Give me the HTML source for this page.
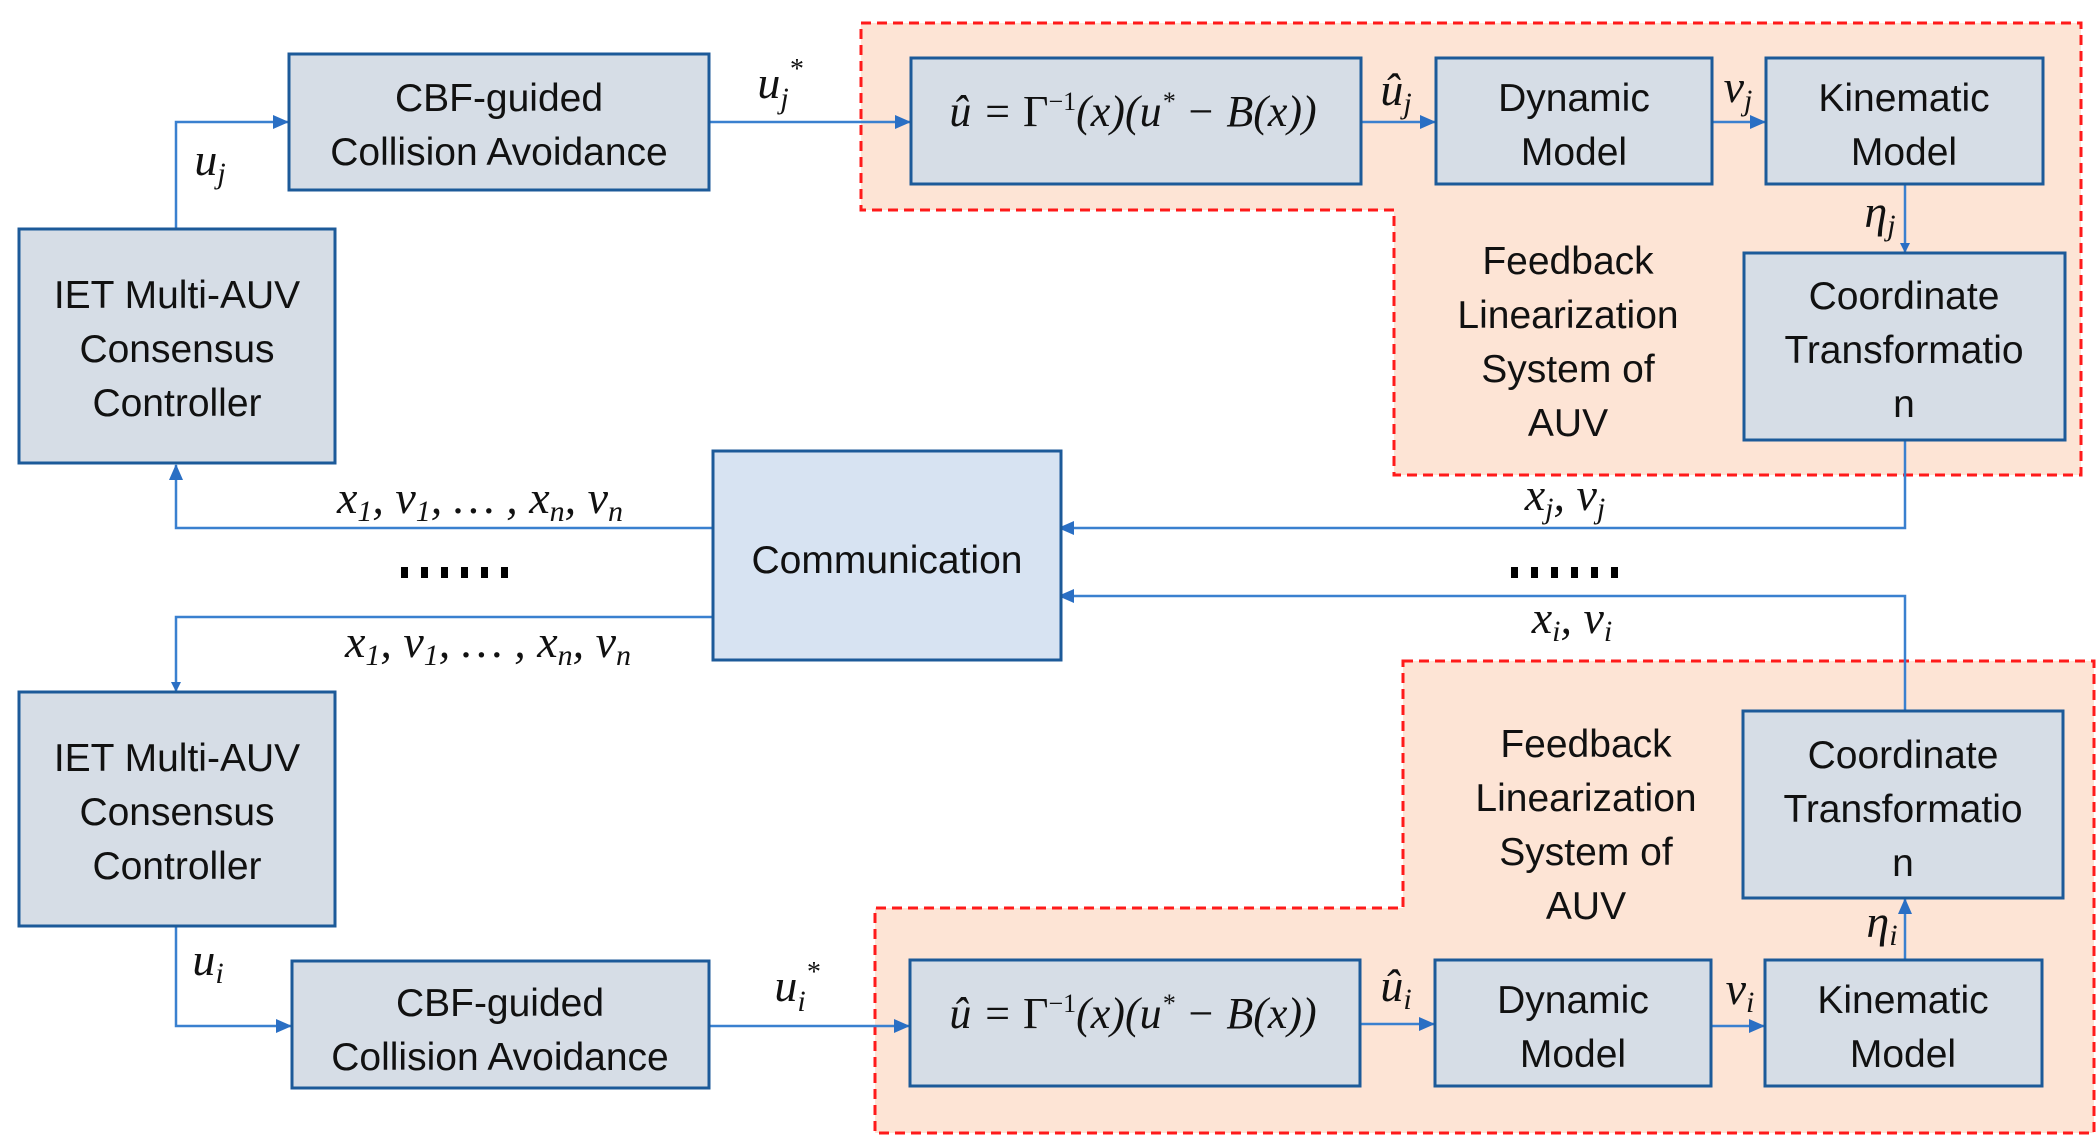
<!DOCTYPE html>
<html><head><meta charset="utf-8"><style>
html,body{margin:0;padding:0;background:#fff;}
svg{display:block;}
.t{font-family:"Liberation Sans",sans-serif;font-size:39px;fill:#111;text-anchor:middle;}
.m{font-family:"Liberation Serif",serif;font-style:italic;font-size:46px;fill:#111;text-anchor:middle;}
.b{fill:#d6dde6;stroke:#1c5a99;stroke-width:3;}
.l{fill:none;stroke:#3a80cf;stroke-width:2.5;}
.r{fill:#fde4d5;stroke:#ff1a1a;stroke-width:3;stroke-dasharray:10 6;}
</style></head><body>
<svg width="2100" height="1146" viewBox="0 0 2100 1146" xmlns="http://www.w3.org/2000/svg">
<defs><marker id="a" markerWidth="10" markerHeight="10" refX="9" refY="5" orient="auto" markerUnits="userSpaceOnUse"><path d="M0,0 L10,5 L0,10 z" fill="#2a6fc4"/></marker>
<marker id="a2" markerWidth="16" markerHeight="14" refX="15" refY="7" orient="auto" markerUnits="userSpaceOnUse"><path d="M0,0 L16,7 L0,14 z" fill="#2a6fc4"/></marker></defs>

<path class="r" d="M861,23 H2081 V475 H1394 V210 H861 Z"/>
<path class="r" d="M1403,661 H2094 V1133 H875 V908 H1403 Z"/>

<path class="l" d="M176,229 V122 H288" marker-end="url(#a2)"/>
<path class="l" d="M709,122 H910" marker-end="url(#a2)"/>
<path class="l" d="M1361,122 H1435" marker-end="url(#a2)"/>
<path class="l" d="M1712,122 H1765" marker-end="url(#a2)"/>
<path class="l" d="M1905,184 V252" marker-end="url(#a)"/>
<path class="l" d="M1905,440 V528 H1059" marker-end="url(#a2)"/>
<path class="l" d="M713,528 H176 V465" marker-end="url(#a2)"/>
<path class="l" d="M713,617 H176 V691" marker-end="url(#a)"/>
<path class="l" d="M1905,710 V596 H1059" marker-end="url(#a2)"/>
<path class="l" d="M1905,960 V899" marker-end="url(#a2)"/>
<path class="l" d="M176,926 V1026 H291" marker-end="url(#a2)"/>
<path class="l" d="M709,1026 H909" marker-end="url(#a2)"/>
<path class="l" d="M1360,1024 H1434" marker-end="url(#a2)"/>
<path class="l" d="M1711,1026 H1764" marker-end="url(#a2)"/>

<rect class="b" x="289" y="54" width="420" height="136"/>
<rect class="b" x="19" y="229" width="316" height="234"/>
<rect class="b" x="911" y="58" width="450" height="126"/>
<rect class="b" x="1436" y="58" width="276" height="126"/>
<rect class="b" x="1766" y="58" width="277" height="126"/>
<rect class="b" x="1744" y="253" width="321" height="187"/>
<rect class="b" x="713" y="451" width="348" height="209" style="fill:#d7e3f2"/>
<rect class="b" x="19" y="692" width="316" height="234"/>
<rect class="b" x="292" y="961" width="417" height="127"/>
<rect class="b" x="910" y="960" width="450" height="126"/>
<rect class="b" x="1435" y="960" width="276" height="126"/>
<rect class="b" x="1765" y="960" width="277" height="126"/>
<rect class="b" x="1743" y="711" width="320" height="187"/>

<text class="t" x="499" y="111">CBF-guided</text>
<text class="t" x="499" y="165">Collision Avoidance</text>
<text class="t" x="177" y="308">IET Multi-AUV</text>
<text class="t" x="177" y="362">Consensus</text>
<text class="t" x="177" y="416">Controller</text>
<text class="t" x="1574" y="111">Dynamic</text>
<text class="t" x="1574" y="165">Model</text>
<text class="t" x="1904" y="111">Kinematic</text>
<text class="t" x="1904" y="165">Model</text>
<text class="t" x="1904" y="309">Coordinate</text>
<text class="t" x="1904" y="363">Transformatio</text>
<text class="t" x="1904" y="417">n</text>
<text class="t" x="1568" y="274">Feedback</text>
<text class="t" x="1568" y="328">Linearization</text>
<text class="t" x="1568" y="382">System of</text>
<text class="t" x="1568" y="436">AUV</text>
<text class="t" x="887" y="573">Communication</text>
<text class="t" x="177" y="771">IET Multi-AUV</text>
<text class="t" x="177" y="825">Consensus</text>
<text class="t" x="177" y="879">Controller</text>
<text class="t" x="500" y="1016">CBF-guided</text>
<text class="t" x="500" y="1070">Collision Avoidance</text>
<text class="t" x="1573" y="1013">Dynamic</text>
<text class="t" x="1573" y="1067">Model</text>
<text class="t" x="1903" y="1013">Kinematic</text>
<text class="t" x="1903" y="1067">Model</text>
<text class="t" x="1903" y="768">Coordinate</text>
<text class="t" x="1903" y="822">Transformatio</text>
<text class="t" x="1903" y="876">n</text>
<text class="t" x="1586" y="757">Feedback</text>
<text class="t" x="1586" y="811">Linearization</text>
<text class="t" x="1586" y="865">System of</text>
<text class="t" x="1586" y="919">AUV</text>

<text class="m" x="1133" y="126" style="font-size:44px">û = <tspan font-style="normal">Γ</tspan><tspan dy="-16" font-size="26" font-style="normal">−1</tspan><tspan dy="16">(x)(u</tspan><tspan dy="-16" font-size="26">*</tspan><tspan dy="16"> − B(x))</tspan></text>
<text class="m" x="1133" y="1028" style="font-size:44px">û = <tspan font-style="normal">Γ</tspan><tspan dy="-16" font-size="26" font-style="normal">−1</tspan><tspan dy="16">(x)(u</tspan><tspan dy="-16" font-size="26">*</tspan><tspan dy="16"> − B(x))</tspan></text>

<text class="m" x="210" y="175">u<tspan font-size="30" dy="8">j</tspan></text>
<text class="m" x="780" y="98">u<tspan font-size="30" dy="10">j</tspan><tspan font-size="28" dy="-30">*</tspan></text>
<text class="m" x="1396" y="105">û<tspan font-size="30" dy="8">j</tspan></text>
<text class="m" x="1738" y="102">ν<tspan font-size="30" dy="8">j</tspan></text>
<text class="m" x="1880" y="227">η<tspan font-size="30" dy="8">j</tspan></text>
<text class="m" x="480" y="513">x<tspan font-size="30" dy="8">1</tspan><tspan dy="-8">, v</tspan><tspan font-size="30" dy="8">1</tspan><tspan dy="-8">, … , x</tspan><tspan font-size="30" dy="8">n</tspan><tspan dy="-8">, v</tspan><tspan font-size="30" dy="8">n</tspan></text>
<text class="m" x="488" y="657">x<tspan font-size="30" dy="8">1</tspan><tspan dy="-8">, v</tspan><tspan font-size="30" dy="8">1</tspan><tspan dy="-8">, … , x</tspan><tspan font-size="30" dy="8">n</tspan><tspan dy="-8">, v</tspan><tspan font-size="30" dy="8">n</tspan></text>
<text class="m" x="1565" y="510">x<tspan font-size="30" dy="8">j</tspan><tspan dy="-8">, v</tspan><tspan font-size="30" dy="8">j</tspan></text>
<text class="m" x="1572" y="633">x<tspan font-size="30" dy="8">i</tspan><tspan dy="-8">, v</tspan><tspan font-size="30" dy="8">i</tspan></text>
<text class="m" x="208" y="975">u<tspan font-size="30" dy="8">i</tspan></text>
<text class="m" x="797" y="1001">u<tspan font-size="30" dy="10">i</tspan><tspan font-size="28" dy="-30">*</tspan></text>
<text class="m" x="1396" y="1001">û<tspan font-size="30" dy="8">i</tspan></text>
<text class="m" x="1740" y="1004">ν<tspan font-size="30" dy="8">i</tspan></text>
<text class="m" x="1882" y="937">η<tspan font-size="30" dy="8">i</tspan></text>

<g fill="#000">
<rect x="401" y="567" width="7" height="11"/><rect x="421" y="567" width="7" height="11"/><rect x="441" y="567" width="7" height="11"/><rect x="461" y="567" width="7" height="11"/><rect x="481" y="567" width="7" height="11"/><rect x="501" y="567" width="7" height="11"/>
<rect x="1511" y="567" width="7" height="11"/><rect x="1531" y="567" width="7" height="11"/><rect x="1551" y="567" width="7" height="11"/><rect x="1571" y="567" width="7" height="11"/><rect x="1591" y="567" width="7" height="11"/><rect x="1611" y="567" width="7" height="11"/>
</g>
</svg>
</body></html>
